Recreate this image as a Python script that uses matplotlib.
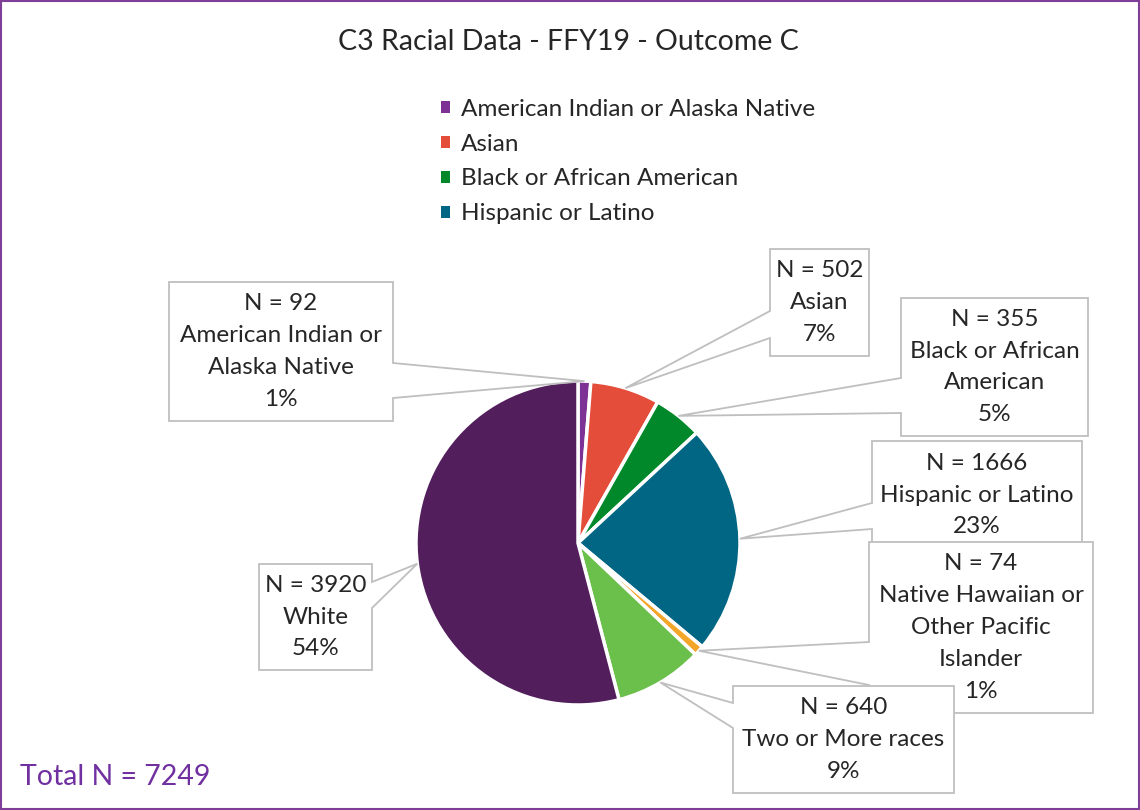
import matplotlib
matplotlib.use("Agg")
import matplotlib.pyplot as plt
from matplotlib.patches import Polygon, Rectangle, Patch
import numpy as np

plt.rcParams['font.family'] = ['Lato', 'DejaVu Sans']

# data
categories = ["American Indian or Alaska Native", "Asian", "Black or African American",
              "Hispanic or Latino", "Native Hawaiian or Other Pacific Islander",
              "Two or More races", "White"]
counts = [92, 502, 355, 1666, 74, 640, 3920]
box_text = ["American Indian or\nAlaska Native", "Asian", "Black or African\nAmerican",
            "Hispanic or Latino", "Native Hawaiian or\nOther Pacific\nIslander",
            "Two or More races", "White"]
colors = ["#7E3194", "#E44D3A", "#00882B", "#006683", "#F4A62A", "#6BBF4B", "#521F5C"]
title = "C3 Racial Data - FFY19 - Outcome C"

W, H = 1140, 810
TXT = "#262626"
GRID = "#BFBFBF"

# callout boxes in pixel coords: x0, y0, x1, y1, side, pointer y a, pointer y b
boxes = [
    (169, 282, 393, 421, "right", 363, 398),
    (770, 249, 869, 356, "left", 311, 338),
    (901, 298, 1088, 436, "left", 378, 413),
    (872, 441, 1082, 549, "left", 503, 529),
    (869, 542, 1093, 713, "left", 642, 685),
    (733, 686, 954, 793, "left", 703, 728),
    (259, 564, 372, 670, "right", 582, 608),
]

fig = plt.figure(figsize=(W / 100, H / 100), dpi=100)
ax = fig.add_axes([0, 0, 1, 1])

cx, cy, r = 578, H - 543, 162
wedges, _ = ax.pie(counts, colors=colors, startangle=90, counterclock=False,
                   center=(cx, cy), radius=r,
                   wedgeprops=dict(edgecolor="white", linewidth=2.5))
ax.set_xlim(0, W)
ax.set_ylim(0, H)
ax.set_aspect("equal")
ax.axis("off")

total = sum(counts)
for w, n, name, b in zip(wedges, counts, box_text, boxes):
    x0, y0, x1, y1, side, pa, pb = b
    y0, y1, pa, pb = H - y0, H - y1, H - pa, H - pb
    mid = np.deg2rad((w.theta1 + w.theta2) / 2)
    tip = (cx + r * np.cos(mid), cy + r * np.sin(mid))
    if side == "left":
        verts = [(x0, y0), (x1, y0), (x1, y1), (x0, y1), (x0, pb), tip, (x0, pa)]
    else:
        verts = [(x0, y0), (x1, y0), (x1, pa), tip, (x1, pb), (x1, y1), (x0, y1)]
    ax.add_patch(Polygon(verts, closed=True, facecolor="white", edgecolor=GRID,
                         linewidth=1.3, zorder=3))
    pct = round(100 * n / total)
    ax.text((x0 + x1) / 2, (y0 + y1) / 2, f"N = {n}\n{name}\n{pct}%",
            ha="center", va="center", fontsize=17.5, color=TXT,
            linespacing=1.64, zorder=4)

ax.text(568, H - 42, title, ha="center", va="center", fontsize=20.5, color=TXT)

handles = [Patch(facecolor=w.get_facecolor(), edgecolor="none") for w in wedges[:4]]
leg = ax.legend(handles, categories[:4], loc="upper left",
                bbox_to_anchor=(431 / W, 1 - 89 / H), frameon=False,
                fontsize=17.5, handlelength=0.38, handleheight=0.38,
                handletextpad=0.45, labelspacing=0.57, borderaxespad=0)
for t in leg.get_texts():
    t.set_color(TXT)

ax.text(20, H - 777, "Total N = 7249", ha="left", va="center", fontsize=20.5,
        color="#7030A0")

fig.add_artist(Rectangle((0.001, 0.001), 0.998, 0.998, transform=fig.transFigure,
                         fill=False, edgecolor="#7F3F98", linewidth=1.5))

fig.savefig("out.png", dpi=100)
